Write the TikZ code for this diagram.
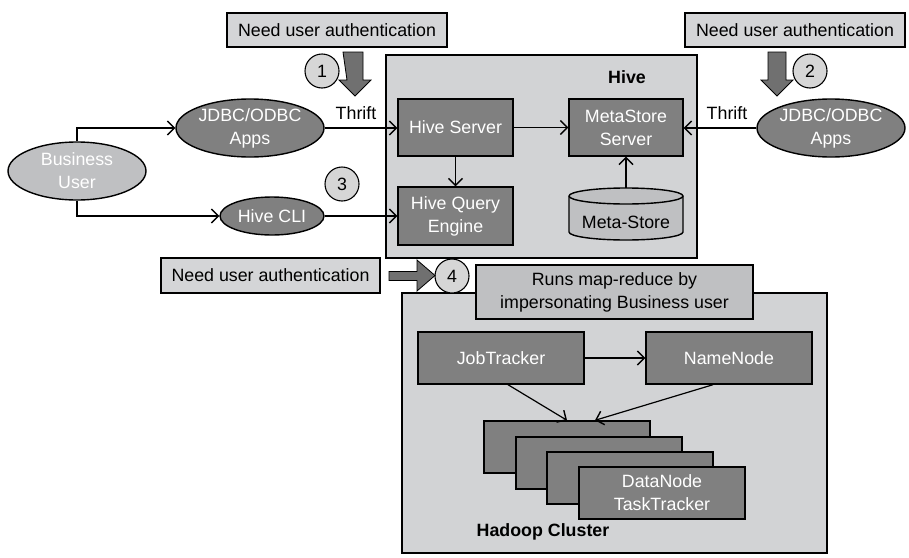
\documentclass[tikz,border=0pt]{standalone}
\usepackage{fontspec}
\setmainfont{Liberation Sans}
\usetikzlibrary{arrows.meta,shapes.geometric}
\definecolor{bgl}{HTML}{D2D3D5}
\definecolor{notec}{HTML}{D4D5D7}
\definecolor{darkb}{HTML}{808080}
\definecolor{midg}{HTML}{BFC0C2}
\definecolor{fatc}{HTML}{707070}
\definecolor{circc}{HTML}{D6D6D6}
\tikzset{
  every node/.style={font=\fontsize{17.8}{23}\selectfont, inner sep=0pt, align=center},
  box/.style={draw=black, line width=1.4pt, rectangle},
  note/.style={box, fill=notec},
  darkbox/.style={box, fill=darkb, text=white},
  darkell/.style={draw=black, line width=1.4pt, ellipse, fill=darkb, text=white},
  numcirc/.style={draw=black, line width=1.1pt, circle, fill=circc, minimum size=34pt},
  conn/.style={line width=1.2pt, -{Straight Barb[length=7pt,width=14pt,line width=1.4pt]}},
  fat/.style={fill=fatc, draw=black, line width=0.8pt, line join=miter},
  lbl/.style={font=\fontsize{17.8}{23}\selectfont},
  boldlbl/.style={font=\bfseries\fontsize{17.8}{23}\selectfont}
}
\begin{document}
\begin{tikzpicture}[x=1pt,y=-1pt]
\useasboundingbox (0,0) rectangle (909,557);
% containers
\node[box, fill=bgl, minimum width=311pt, minimum height=203pt] (hive) at (541.5,156.5) {};
\node[box, fill=bgl, minimum width=425pt, minimum height=260pt] (hadoop) at (614.5,423) {};
\node[boldlbl] (hivelbl) at (627,77) {Hive};
\node[boldlbl] (hadooplbl) at (543,532) {Hadoop Cluster};
% notes
\node[note, minimum width=220pt, minimum height=34pt] (note1) at (337,30) {Need user authentication};
\node[note, minimum width=220pt, minimum height=34pt] (note2) at (795,30) {Need user authentication};
\node[note, minimum width=219pt, minimum height=35pt] (note3) at (270.5,275.5) {Need user authentication};
\node[box, fill=midg, minimum width=277pt, minimum height=54pt] (runs) at (614.5,292) {Runs map-reduce by\\impersonating Business user};
% hive internals
\node[darkbox, minimum width=115pt, minimum height=57pt] (hs) at (455.5,127.5) {Hive Server};
\node[darkbox, minimum width=115pt, minimum height=58pt] (hqe) at (455.5,216) {Hive Query\\Engine};
\node[darkbox, minimum width=114pt, minimum height=57pt] (mss) at (626,127.5) {MetaStore\\Server};
% cylinder
\path[fill=midg, draw=black, line width=1.4pt] (569,196) -- (569,232) arc[start angle=180, end angle=360, x radius=57pt, y radius=8pt] -- (683,196) arc[start angle=0, end angle=180, x radius=57pt, y radius=8pt] -- cycle;
\draw[line width=1.4pt] (569,196) arc[start angle=180, end angle=360, x radius=57pt, y radius=8pt];
\node[minimum width=114pt, minimum height=52pt] (ms) at (626,214) {};
\node (mstxt) at (626,222) {Meta-Store};
% ellipses
\node[darkell, minimum width=148pt, minimum height=58pt] (jdbcL) at (250,128) {JDBC/ODBC\\Apps};
\node[darkell, minimum width=148pt, minimum height=58pt] (jdbcR) at (831,128) {JDBC/ODBC\\Apps};
\node[draw=black, line width=1.4pt, ellipse, fill=midg, text=white, minimum width=138pt, minimum height=58pt] (bu) at (77,171) {Business\\User};
\node[darkell, minimum width=104pt, minimum height=38pt] (cli) at (272,216) {Hive CLI};
% circles
\node[numcirc] (c1) at (322,71) {1};
\node[numcirc] (c2) at (810,71) {2};
\node[numcirc] (c3) at (342,184) {3};
\node[numcirc] (c4) at (452,276) {4};
% thrift labels
\node[lbl] (thL) at (356,113) {Thrift};
\node[lbl] (thR) at (727,113) {Thrift};
% hadoop internals
\node[darkbox, minimum width=166pt, minimum height=52pt] (jt) at (501,358) {JobTracker};
\node[darkbox, minimum width=166pt, minimum height=52pt] (nn) at (729,358) {NameNode};
\node[darkbox, minimum width=166pt, minimum height=52pt] (dn1) at (567,447) {};
\node[darkbox, minimum width=166pt, minimum height=52pt] (dn2) at (599,463) {};
\node[darkbox, minimum width=166pt, minimum height=52pt] (dn3) at (630,478) {};
\node[darkbox, minimum width=166pt, minimum height=52pt] (dn4) at (662,493) {DataNode\\TaskTracker};
% fat arrows
\path[fat] (343,52) -- (363,52) -- (363,80) -- (371,80) -- (355,96) -- (339,80) -- (347,80) -- cycle;
\path[fat] (786,52) -- (768,52) -- (768,80) -- (761,80) -- (777,96) -- (793,80) -- (786,80) -- cycle;
\path[fat] (389,271.5) -- (417,271.5) -- (417,260) -- (435,275.5) -- (417,291) -- (417,280.5) -- (389,280.5) -- cycle;
% connectors
\draw[conn] (bu.north) |- (jdbcL.west);
\draw[conn] (bu.south) |- (cli.west);
\draw[conn] (jdbcL.east) -- (jdbcL.east -| hs.west);
\draw[conn] (cli.east) -- (cli.east -| hqe.west);
\draw[conn] (hs.south) -- (hqe.north);
\draw[conn] (hs.east) -- (mss.west);
\draw[conn] (ms.north) -- (mss.south);
\draw[conn] (jdbcR.west) -- (jdbcR.west -| mss.east);
\draw[conn] (jt.east) -- (nn.west);
\draw[conn] ([xshift=7pt]jt.south) -- (dn1.north);
\draw[conn] ([xshift=-16pt]nn.south) -- ([xshift=28pt]dn1.north);
\end{tikzpicture}
\end{document}
